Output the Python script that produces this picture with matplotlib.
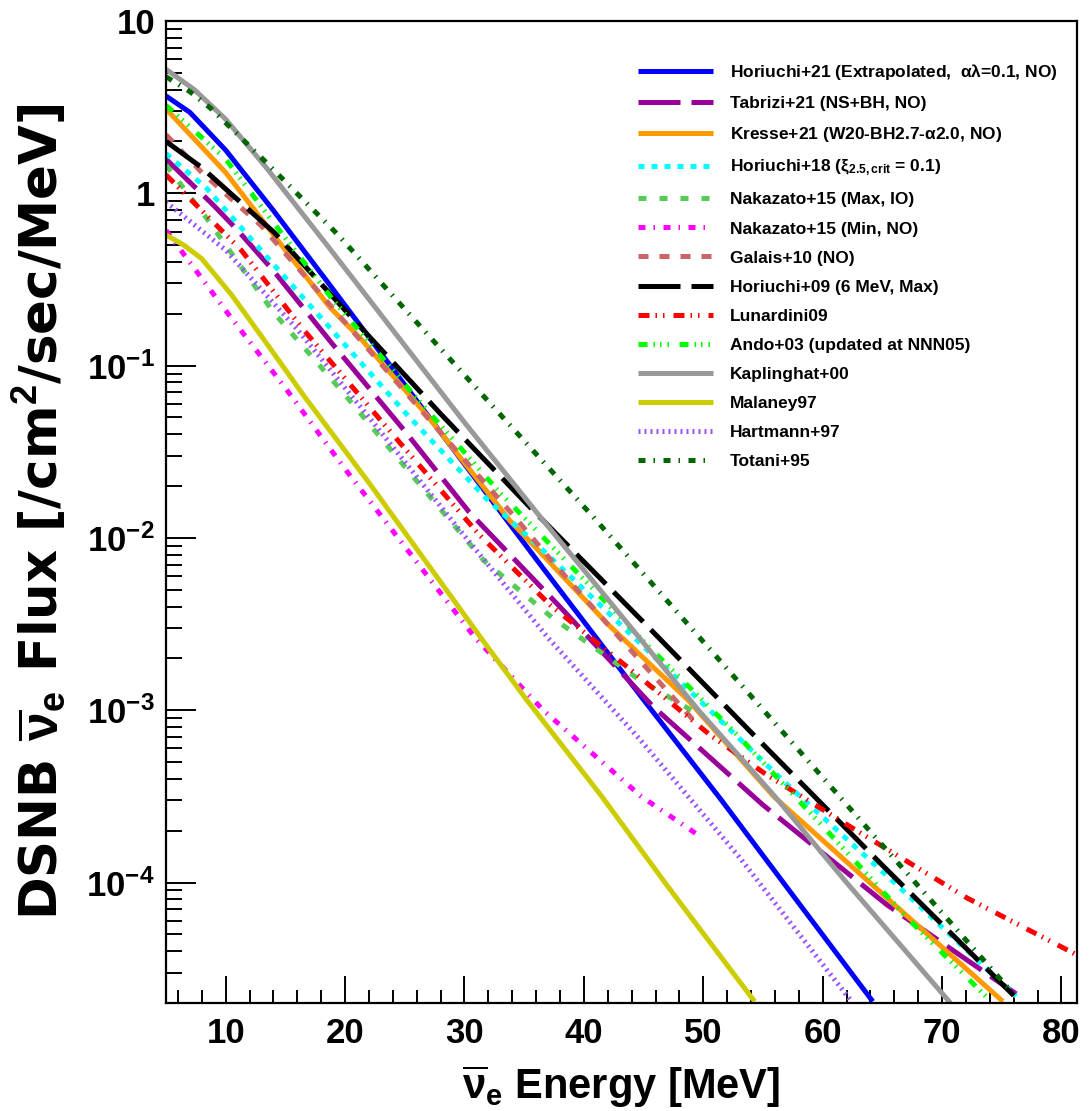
import matplotlib
matplotlib.use("Agg")
import matplotlib.pyplot as plt
from matplotlib.ticker import MultipleLocator, LogLocator, NullFormatter, FuncFormatter
import numpy as np

plt.rcParams["font.family"] = ["Liberation Sans", "DejaVu Sans"]
plt.rcParams["font.weight"] = "bold"
plt.rcParams["mathtext.fontset"] = "custom"
plt.rcParams["mathtext.rm"] = "Liberation Sans"
plt.rcParams["mathtext.it"] = "Liberation Sans"
plt.rcParams["mathtext.bf"] = "Liberation Sans:bold"
plt.rcParams["mathtext.sf"] = "Liberation Sans"

# ---- data (energy in MeV, flux in /cm2/sec/MeV) ----
horiuchi21_e = [5, 7, 10, 14, 18.7, 24, 30.2, 36.3, 45, 51.5, 58, 64.2]
horiuchi21_f = [3.67, 2.95, 1.78, 0.794, 0.295, 0.0955, 0.0257, 7.08e-3, 1.15e-3, 3.02e-4, 7.59e-5, 2.04e-5]

tabrizi21_e = [5, 9, 11, 14, 19, 25, 30.4, 38, 45.8, 55, 65.4, 76.2]
tabrizi21_f = [1.58, 0.85, 0.61, 0.355, 0.132, 0.0417, 0.0141, 3.98e-3, 1.05e-3, 2.82e-4, 7.41e-5, 2.26e-5]

kresse21_e = [5, 10, 14, 18.7, 21.4, 27, 33.8, 36.3, 42, 48.7, 55.9, 66.2, 75.1]
kresse21_f = [3.09, 1.32, 0.575, 0.219, 0.141, 0.0501, 0.0126, 8.32e-3, 3.16e-3, 1.15e-3, 3.16e-4, 7.24e-5, 2.04e-5]

horiuchi18_e = [5, 8.4, 14.1, 19, 25, 31.8, 36.7, 45, 57, 66, 76.2]
horiuchi18_f = [1.70, 1.07, 0.380, 0.158, 0.0537, 0.0170, 8.32e-3, 2.34e-3, 3.72e-4, 1.0e-4, 2.19e-5]

nakazato_max_e = [5, 8.4, 14, 20, 26, 31.6, 37.3, 44.6, 49.5]
nakazato_max_f = [1.46, 0.716, 0.204, 0.0676, 0.0214, 7.41e-3, 3.47e-3, 1.51e-3, 9.55e-4]

nakazato_min_e = [5, 10.2, 15, 20, 25, 30.9, 36.6, 44.8, 49.9]
nakazato_min_f = [0.61, 0.2, 0.0741, 0.0251, 8.91e-3, 2.63e-3, 1.0e-3, 3.16e-4, 1.82e-4]

galais10_e = [5, 8, 13, 20, 27, 34.1, 37.4, 43, 49.2]
galais10_f = [2.19, 1.32, 0.646, 0.178, 0.049, 0.0135, 7.24e-3, 2.63e-3, 8.71e-4]

horiuchi09_e = [5, 8, 14.1, 21, 28, 35.2, 45, 54.1, 65, 76]
horiuchi09_f = [2.0, 1.41, 0.589, 0.176, 0.0525, 0.0158, 3.24e-3, 7.33e-4, 1.26e-4, 2.21e-5]

lunardini09_e = [5, 8, 11.3, 16.5, 24, 31.2, 37.2, 44, 50.6, 55.2, 62.4, 72.1, 81.3]
lunardini09_f = [1.28, 0.794, 0.468, 0.162, 0.0398, 0.0105, 4.07e-3, 1.70e-3, 7.16e-4, 4.27e-4, 2.09e-4, 8.13e-5, 3.8e-5]

ando03_e = [5, 10, 14, 19, 26, 33, 37.9, 45, 52.8, 60.1, 67, 73.8]
ando03_f = [3.24, 1.58, 0.676, 0.24, 0.0646, 0.0182, 8.13e-3, 2.51e-3, 7.24e-4, 2.09e-4, 6.31e-5, 2.14e-5]

kaplinghat00_e = [5, 7.4, 10, 13.4, 18.7, 24.5, 30, 36.6, 43, 49.6, 56, 62, 70.7]
kaplinghat00_f = [5.25, 3.98, 2.69, 1.41, 0.479, 0.145, 0.0468, 0.0126, 3.63e-3, 1.0e-3, 3.16e-4, 1.0e-4, 2.0e-5]

malaney97_e = [5, 6.5, 8, 10.5, 13, 16.6, 22, 27, 31.7, 35.2, 41.5, 47, 54.3]
malaney97_f = [0.573, 0.50, 0.417, 0.257, 0.148, 0.0661, 0.0209, 6.92e-3, 2.45e-3, 1.15e-3, 3.16e-4, 9.55e-5, 2.04e-5]

hartmann97_e = [5, 10, 16, 22, 29.6, 37, 44.7, 53, 62.3]
hartmann97_f = [0.891, 0.468, 0.162, 0.0501, 0.0111, 2.63e-3, 6.76e-4, 1.41e-4, 2.09e-5]

totani95_e = [5, 7, 8.8, 13.4, 19.4, 26.4, 33.6, 40.8, 50.6, 63.3, 75.9]
totani95_f = [4.75, 3.89, 3.09, 1.51, 0.575, 0.166, 0.0468, 0.0132, 2.24e-3, 2.24e-4, 2.29e-5]

LW = 3.6

models = [
    (horiuchi21_e, horiuchi21_f, "#0000ff", "-",
     r"Horiuchi+21 (Extrapolated,  $\alpha\lambda$=0.1, NO)"),
    (tabrizi21_e, tabrizi21_f, "#990099", (0, (8.4, 2.2)), "Tabrizi+21 (NS+BH, NO)"),
    (kresse21_e, kresse21_f, "#ff9900", "-", r"Kresse+21 (W20-BH2.7-$\alpha$2.0, NO)"),
    (horiuchi18_e, horiuchi18_f, "#00ffff", (0, (1.2, 1.4)),
     r"Horiuchi+18 ($\xi_{\mathbf{2.5,crit}}$ = 0.1)"),
    (nakazato_max_e, nakazato_max_f, "#55cc55", (0, (1.6, 2.6)), "Nakazato+15 (Max, IO)"),
    (nakazato_min_e, nakazato_min_f, "#ff00ff", (0, (1.4, 1.6, 0.3, 1.7)), "Nakazato+15 (Min, NO)"),
    (galais10_e, galais10_f, "#cc6666", (0, (2.0, 2.2)), "Galais+10 (NO)"),
    (horiuchi09_e, horiuchi09_f, "#000000", (0, (8.4, 2.2)), "Horiuchi+09 (6 MeV, Max)"),
    (lunardini09_e, lunardini09_f, "#ff0000", (0, (2.2, 1.2, 0.3, 1.2, 0.3, 1.8)), "Lunardini09"),
    (ando03_e, ando03_f, "#00ff00", (0, (1.8, 1.2, 0.3, 1.0, 0.3, 1.2, 0.3, 2.1)),
     "Ando+03 (updated at NNN05)"),
    (kaplinghat00_e, kaplinghat00_f, "#999999", "-", "Kaplinghat+00"),
    (malaney97_e, malaney97_f, "#cccc00", "-", "Malaney97"),
    (hartmann97_e, hartmann97_f, "#9955ff", (0, (0.4, 0.8)), "Hartmann+97"),
    (totani95_e, totani95_f, "#006600", (0, (1.4, 1.6, 0.3, 1.7)), "Totani+95"),
]

fig = plt.figure(figsize=(10.89, 11.11), dpi=100)
ax = fig.add_axes([166 / 1089, 1 - 1003 / 1111, (1077 - 166) / 1089, (1003 - 21) / 1111])

for e, f, color, ls, label in models:
    ax.plot(e, f, color=color, linestyle=ls, linewidth=LW, label=label,
            dash_capstyle="butt", solid_capstyle="butt")

ax.set_yscale("log")
ax.set_xlim(5, 81.3)
ax.set_ylim(2e-5, 10)

ax.xaxis.set_major_locator(MultipleLocator(10))
ax.xaxis.set_minor_locator(MultipleLocator(2))
ax.yaxis.set_major_locator(LogLocator(base=10, numticks=20))
ax.yaxis.set_minor_locator(LogLocator(base=10, subs=np.arange(2, 10), numticks=20))
ax.yaxis.set_minor_formatter(NullFormatter())


def ytick_fmt(v, pos):
    exp = int(round(np.log10(v)))
    if exp == 1:
        return "10"
    if exp == 0:
        return "1"
    return r"$\mathbf{10^{%d}}$" % exp


ax.yaxis.set_major_formatter(FuncFormatter(ytick_fmt))

ax.tick_params(axis="both", which="both", direction="in", top=False, right=False,
               width=1.4, labelsize=25)
ax.tick_params(axis="x", which="major", length=19.5, pad=10)
ax.tick_params(axis="x", which="minor", length=9.5)
ax.tick_params(axis="y", which="major", length=21.5, pad=8)
ax.tick_params(axis="y", which="minor", length=11.5)
for lab in ax.get_xticklabels() + ax.get_yticklabels():
    lab.set_fontweight("bold")
for sp in ax.spines.values():
    sp.set_linewidth(1.6)

ax.set_xlabel(r"$\overline{\nu}_{\mathbf{e}}$ Energy [MeV]", fontsize=30, fontweight="bold")
ax.xaxis.label.set_va("center")
ax.xaxis.set_label_coords(0.5, (1003 - 1087) / 982)
ax.set_ylabel(r"DSNB $\overline{\nu}_{\mathbf{e}}$ Flux [/cm$^{\mathbf{2}}$/sec/MeV]",
              fontsize=37, fontweight="bold", family=["DejaVu Sans"])
ax.yaxis.label.set_va("center")
ax.yaxis.set_label_coords((40 - 166) / 911, 0.5)

leg = ax.legend(loc="upper left", bbox_to_anchor=((638 - 166) / 911, (1003 - 62) / 982),
                frameon=False, fontsize=12.5, handlelength=4.3, handletextpad=1.0,
                labelspacing=0.8, borderpad=0, borderaxespad=0)
for t in leg.get_texts():
    t.set_fontweight("bold")

fig.savefig("out.png", dpi=100)
